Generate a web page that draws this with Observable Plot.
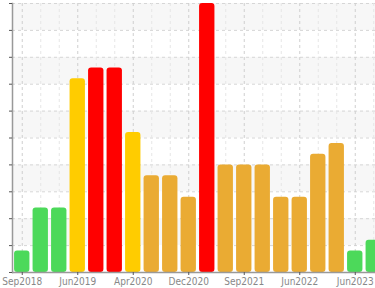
<!DOCTYPE html>
<html><head><meta charset="utf-8">
<script src="https://cdn.jsdelivr.net/npm/d3@7"></script>
<script src="https://cdn.jsdelivr.net/npm/@observablehq/plot@0.6"></script>
<style>
html,body{margin:0;padding:0;background:#fff;overflow:hidden;width:375px;height:288px}
#chart svg{display:block}
</style></head><body><div id="chart"></div>
<script>
const periods = ["Sep2018","Dec2018","Mar2019","Jun2019","Sep2019","Dec2019","Apr2020","Jun2020","Sep2020","Dec2020","Mar2021","Jun2021","Sep2021","Dec2021","Mar2022","Jun2022","Sep2022","Dec2022","Jun2023","Sep2023"];
const values = [2,6,6,18,19,19,13,9,9,7,25,10,10,10,7,7,11,12,2,3];
const levels = ["low","low","low","high","severe","severe","high","moderate","moderate","moderate","severe","moderate","moderate","moderate","moderate","moderate","moderate","moderate","low","low"];
const levelNames = ["low","moderate","high","severe"];
const levelColors = ["#4cd95a","#eaab33","#ffcc00","#ff0000"];
const labeledPeriods = ["Sep2018","Jun2019","Apr2020","Dec2020","Sep2021","Jun2022","Jun2023"];
const yTicks = [0,2.5,5,7.5,10,12.5,15,17.5,20,22.5,25];

const data = periods.map((p,i)=>({period:p, value:values[i], level:levels[i]}));
// shaded bands: every other interval counted from the top
const bands = [];
for (let i = yTicks.length - 1; i > 0; i -= 2) bands.push({y1: yTicks[i-1], y2: yTicks[i]});

const font = "'Liberation Sans Narrow','DejaVu Sans Condensed',sans-serif";
const chart = Plot.plot({
  width: 375,
  height: 288,
  marginLeft: 12,
  marginRight: 0,
  marginTop: 3,
  marginBottom: 16,
  style: {fontFamily: font, fontSize: "10px", background: "#fff", overflow: "hidden"},
  x: {type: "band", domain: periods, range: [12.5, 382.5], paddingInner: 0.17, paddingOuter: 0.085, round: false, label: null},
  y: {domain: [0, 25], label: null},
  color: {domain: levelNames, range: levelColors},
  marks: [
    Plot.rect(bands, {y1: "y1", y2: "y2", fill: "#f7f7f7"}),
    Plot.ruleY(yTicks, {stroke: "#d6d6d6", strokeDasharray: "3,3"}),
    Plot.ruleX(periods, {x: d => d, stroke: d => labeledPeriods.includes(d) ? "#cfcfcf" : "#e6e6e6", strokeDasharray: "3,3"}),
    Plot.barY(data, {x: "period", y: "value", fill: "level", rx: 3, inset: 0}),
    Plot.ruleY([0], {stroke: "#999", strokeWidth: 1.5}),
    Plot.frame({anchor: "left", stroke: "#999", strokeWidth: 1.5}),
    Plot.axisY({ticks: yTicks, tickSize: 3, tickFormat: () => "", stroke: "#555", label: null}),
    Plot.axisX({ticks: labeledPeriods, tickSize: 3, tickPadding: 2, fill: "#888", stroke: "#555", fontSize: 10, label: null})
  ]
});
document.getElementById("chart").append(chart);
</script></body></html>
